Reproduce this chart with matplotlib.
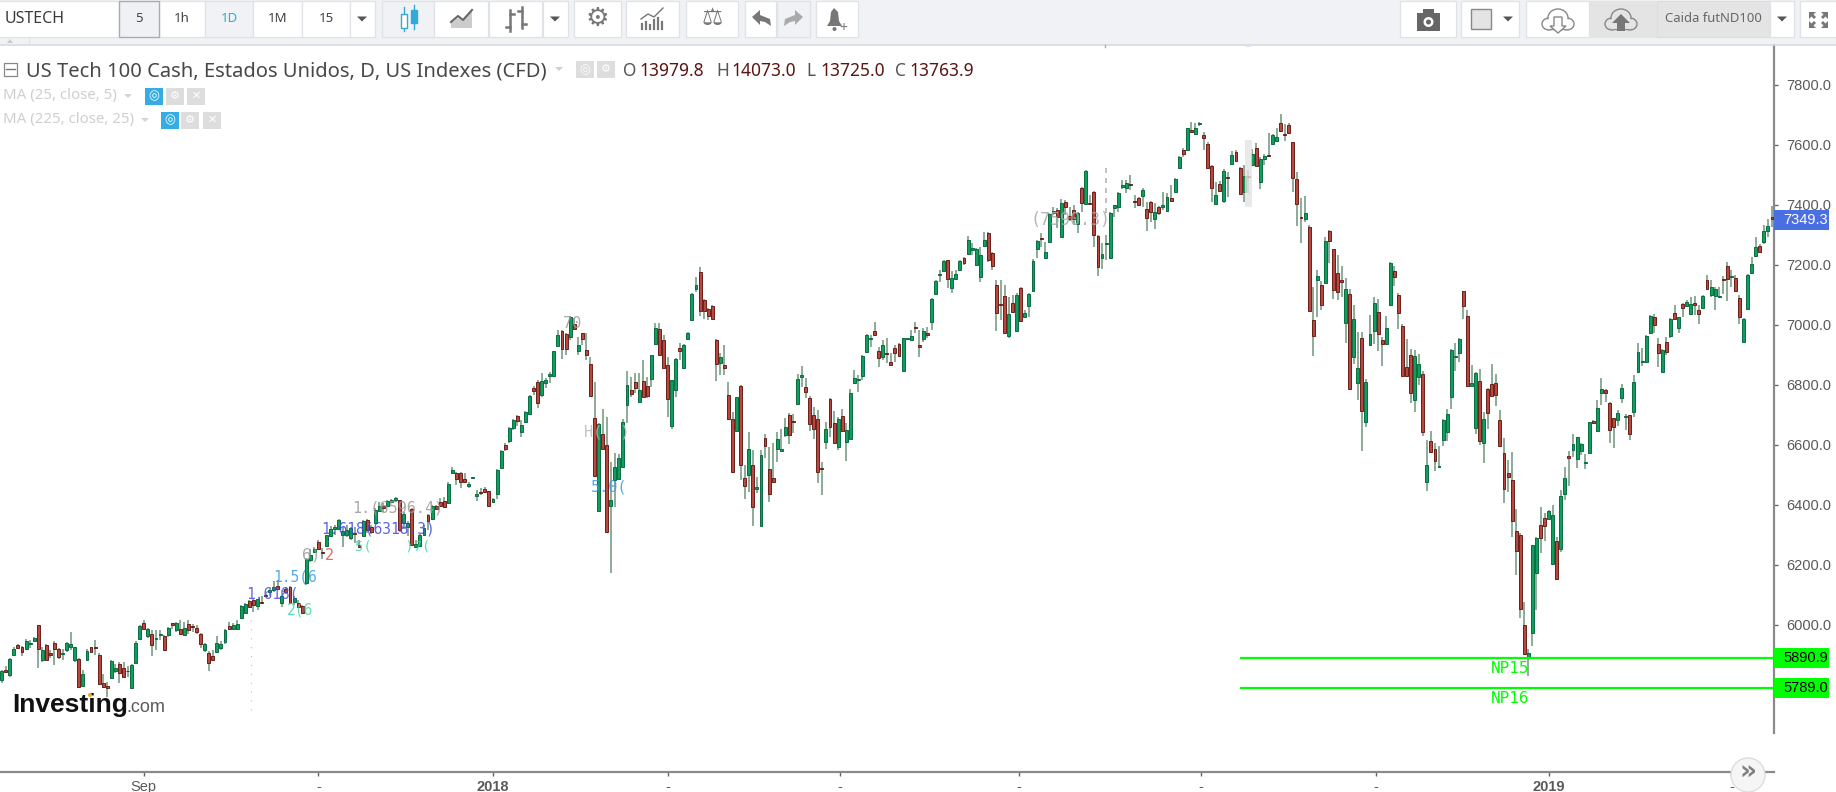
import matplotlib
matplotlib.use("Agg")
import matplotlib.pyplot as plt
from matplotlib.patches import Rectangle, Circle, Polygon, Ellipse

# ---- data ----
directions = (
    "GRGGRRGGGR" "GRRRRGGGGR" "GGRRRRRGGR" "RRGGGRGRGG" "RGRGRGRRRR"
    "GRRGGGRGGG" "GRRGRRGGRG" "RRGRRGGGRR" "GGGGGGGRRG" "RRGGRGGGRG"
    "GRGGGRGRRR" "GGRRRGGGRR" "RGGGRGGRGG" "GRRGGGGGRR" "GRGRRRRGRR"
    "GGGGGRRGRR" "GGRRRGGRGG" "GGRRRRRGRR" "RGRRGRGGRR" "RGGGRRGGRR"
    "RRRGRRGRGG" "GGGGGRRGRR" "RRGGGRRGRG" "GGGRGGGRGG" "GGGRRRRRGR"
    "GRGGGGRGGG" "RGRRRGRGRR" "RGGGGGGGRR" "RGRRGRGGRG" "GRGRGGRRRG"
    "RGRGRRGRGR" "GGRGGRRRRR" "RGRRGRGRRR" "RGRGGRGGGR" "RGGRRRRRGG"
    "RGRRGGGGGG" "RRGGRGRRRR" "RRRRRRGGGR" "RGGRGGRGGG" "GGRGGRRRGG"
    "GRGGGGGRRG" "RGRGRGGRRG" "RGGGRRGRRG" "GGGRGGR"
)
highs = [
    5850,5864,5889,5928,5936,5930,5953,5950,5959,5999, 5926,5937,5917,5945,5923,5919,5944,5978,5928,5889,
    5850,5919,5928,5950,5908,5836,5811,5884,5870,5875, 5878,5864,5870,5947,6000,6017,5989,5984,5984,5984,
    5965,5993,6008,6011,6017,6011,6015,6004,6000,5973, 5941,5914,5915,5964,5945,5986,6011,6008,6017,6066,
    6073,6084,6086,6088,6095,6104,6123,6145,6150,6117, 6128,6130,6095,6084,6067,6223,6253,6261,6284,6256,
    6301,6330,6334,6353,6326,6334,6328,6328,6284,6350, 6353,6334,6389,6411,6406,6417,6419,6426,6417,6375,
    6345,6389,6284,6303,6334,6370,6400,6399,6423,6428, 6475,6528,6511,6511,6506,6478,6494,6450,6456,6459,
    6448,6422,6519,6583,6606,6661,6686,6700,6683,6713, 6767,6797,6817,6839,6822,6844,6914,6983,6983,6974,
    7030,7022,6961,6974,6972,6892,6811,6674,6719,6694, 6544,6572,6570,6686,6848,6828,6839,6839,6883,6828,
    6901,7008,7006,6966,6894,6817,6889,6941,6937,6978, 7106,7159,7193,7086,7056,7067,6952,6908,6933,6811,
    6711,6761,6799,6533,6644,6583,6494,6583,6637,6594, 6606,6644,6653,6689,6708,6702,6837,6863,6822,6763,
    6726,6717,6544,6678,6756,6714,6692,6719,6672,6788, 6850,6833,6900,6970,6967,7011,6928,6950,6956,6906,
    6933,6939,6958,6958,6983,7011,6983,6989,6994,7089, 7150,7183,7217,7217,7181,7183,7217,7228,7297,7272,
    7258,7261,7311,7311,7243,7150,7150,7133,7094,7100, 7106,7127,7050,7108,7219,7283,7306,7278,7372,7392,
    7389,7420,7417,7392,7400,7378,7459,7516,7433,7447, 7300,7272,7300,7377,7401,7442,7483,7483,7500,7433,
    7428,7456,7411,7413,7406,7397,7444,7439,7467,7490, 7563,7589,7658,7677,7672,7677,7644,7611,7532,7478,
    7480,7519,7511,7581,7583,7528,7533,7517,7586,7608, 7561,7569,7641,7636,7656,7703,7670,7672,7611,7511,
    7422,7431,7332,7125,7183,7147,7294,7316,7254,7233, 7196,7155,7119,7066,6977,6977,6820,7033,7092,7085,
    6959,7030,7210,7196,7107,7002,6953,6921,6916,6903, 6845,6616,6645,6605,6596,6685,6720,6919,6941,6955,
    7114,7050,6865,6844,6854,6710,6789,6870,6836,6715, 6624,6550,6577,6386,6305,6077,5919,6267,6292,6394,
    6372,6383,6400,6294,6450,6526,6580,6637,6628,6608, 6570,6678,6683,6750,6822,6786,6743,6691,6717,6803,
    6703,6701,6833,6941,6922,6966,7032,7037,6956,6919, 6961,7022,7067,7028,7072,7083,7092,7098,7067,7099,
    7167,7150,7128,7128,7163,7209,7183,7167,7100,7023, 7169,7226,7294,7269,7333,7352,7397,
]
body_tops = [
    5845,5850,5887,5921,5934,5928,5947,5939,5958,5999, 5917,5934,5908,5941,5920,5908,5941,5935,5925,5887,
    5836,5914,5925,5926,5900,5807,5796,5880,5857,5870, 5857,5847,5866,5939,5997,6008,5987,5970,5957,5969,
    5963,5989,6006,6008,5986,5991,6003,5997,5991,5970, 5937,5908,5898,5941,5937,5984,5995,6000,6003,6064,
    6070,6079,6084,6086,6078,6099,6117,6128,6131,6097, 6119,6128,6089,6073,6064,6219,6234,6253,6278,6244,
    6299,6319,6326,6350,6314,6315,6323,6308,6267,6347, 6350,6325,6383,6395,6395,6413,6417,6423,6415,6370,
    6339,6386,6270,6300,6323,6368,6398,6397,6411,6414, 6471,6517,6508,6508,6486,6470,6494,6437,6442,6454,
    6446,6420,6517,6580,6600,6657,6682,6697,6666,6711, 6763,6791,6811,6814,6817,6837,6912,6967,6980,6970,
    7028,7003,6933,6972,6916,6870,6691,6670,6637,6599, 6417,6528,6558,6678,6799,6782,6809,6783,6812,6796,
    6899,6991,6986,6949,6866,6817,6887,6924,6933,6972, 7103,7134,7175,7084,7053,7063,6950,6892,6866,6766,
    6687,6759,6797,6491,6586,6532,6461,6566,6624,6520, 6491,6619,6587,6661,6700,6679,6820,6834,6794,6758,
    6701,6686,6521,6653,6753,6672,6686,6698,6650,6774, 6823,6821,6897,6967,6957,6981,6912,6932,6907,6878,
    6924,6936,6956,6956,6964,6994,6932,6979,6972,7087, 7147,7170,7213,7216,7156,7170,7212,7222,7282,7256,
    7254,7233,7282,7308,7241,7132,7070,7098,7037,7073, 7099,7124,7039,7104,7214,7279,7291,7244,7369,7379,
    7383,7406,7411,7364,7382,7374,7457,7513,7407,7444, 7298,7236,7274,7374,7399,7440,7466,7472,7471,7412,
    7422,7449,7386,7411,7378,7394,7399,7427,7422,7488, 7561,7582,7656,7649,7657,7672,7633,7604,7529,7432,
    7470,7513,7494,7566,7578,7524,7497,7498,7569,7591, 7552,7564,7567,7632,7628,7672,7637,7666,7609,7486,
    7358,7372,7325,7016,7163,7132,7280,7313,7252,7174, 7150,7119,7103,7020,6857,6957,6811,6969,7074,7044,
    6949,6991,7207,7179,7099,6995,6861,6899,6895,6870, 6836,6532,6612,6586,6531,6683,6703,6916,6896,6953,
    7112,7029,6806,6841,6812,6686,6786,6802,6806,6682, 6573,6506,6482,6314,6299,5999,5906,6265,6290,6333,
    6357,6380,6367,6279,6429,6491,6562,6603,6626,6603, 6544,6676,6681,6724,6786,6782,6741,6689,6708,6791,
    6698,6699,6811,6911,6878,6963,7029,7028,6936,6916, 6944,7020,7041,7026,7070,7078,7069,7073,7049,7097,
    7149,7128,7120,7098,7153,7196,7163,7157,7091,7021, 7167,7203,7261,7262,7312,7330,7361,
]
body_bottoms = [
    5817,5844,5834,5900,5923,5909,5919,5935,5948,5919, 5884,5884,5899,5919,5893,5904,5915,5928,5882,5793,
    5797,5882,5909,5923,5803,5794,5789,5823,5848,5839, 5827,5845,5789,5873,5953,5988,5964,5934,5954,5965,
    5917,5965,5999,5984,5970,5967,5984,5993,5977,5937, 5915,5873,5884,5911,5923,5943,5986,5988,5986,6023,
    6039,6061,6068,6064,6074,6097,6110,6117,6120,6073, 6111,6073,6078,6061,6041,6139,6215,6244,6253,6239,
    6264,6295,6319,6321,6300,6300,6289,6304,6261,6298, 6317,6309,6339,6381,6389,6398,6410,6415,6315,6339,
    6326,6267,6261,6264,6300,6347,6354,6386,6397,6393, 6406,6506,6486,6478,6476,6463,6490,6430,6439,6442,
    6397,6411,6436,6522,6586,6612,6656,6681,6642,6676, 6702,6781,6739,6767,6806,6831,6831,6930,6920,6919,
    6959,6988,6913,6952,6901,6764,6498,6380,6586,6311, 6397,6483,6486,6528,6734,6770,6789,6743,6760,6764,
    6819,6936,6901,6856,6752,6664,6782,6913,6856,6954, 7017,7120,7048,7046,7031,7021,6869,6872,6856,6686,
    6510,6648,6532,6464,6499,6394,6452,6331,6598,6436, 6476,6588,6581,6632,6632,6676,6737,6828,6777,6669,
    6652,6510,6519,6610,6661,6606,6592,6648,6611,6621, 6806,6817,6831,6911,6952,6966,6889,6892,6902,6867,
    6906,6898,6848,6952,6950,6989,6927,6954,6968,7011, 7102,7166,7181,7154,7122,7152,7184,7206,7236,7249,
    7200,7161,7264,7218,7198,7039,7067,6972,6963,7042, 6981,7014,7027,7063,7113,7252,7286,7223,7277,7372,
    7360,7294,7394,7352,7352,7337,7406,7403,7402,7299, 7194,7224,7271,7223,7390,7394,7460,7457,7468,7409,
    7401,7430,7356,7378,7354,7372,7394,7381,7413,7444, 7524,7571,7584,7643,7636,7669,7622,7522,7456,7402,
    7448,7413,7489,7536,7548,7436,7444,7493,7533,7531, 7478,7552,7564,7602,7614,7648,7632,7639,7489,7402,
    7356,7352,7047,6963,7150,7066,7141,7280,7116,7109, 7143,7005,6786,6894,6805,6714,6676,6933,6981,6969,
    6937,6936,7066,7159,7039,6831,6831,6772,6750,6827, 6643,6476,6576,6547,6526,6618,6643,6760,6893,6905,
    7064,6798,6798,6655,6614,6605,6705,6764,6767,6596, 6452,6493,6347,6247,6052,5902,5894,5972,6172,6289,
    6331,6352,6202,6152,6252,6436,6556,6582,6552,6581, 6540,6572,6673,6648,6772,6773,6649,6661,6682,6756,
    6694,6636,6711,6844,6876,6878,6972,6999,6906,6843, 6909,6963,7019,6989,7056,7064,7036,7066,7036,7056,
    7119,7100,7097,7092,7151,7152,7159,7113,7026,6943, 7052,7174,7231,7243,7276,7314,7352,
]
lows = [
    5806,5839,5826,5900,5920,5897,5917,5923,5947,5856, 5878,5882,5889,5867,5888,5884,5911,5917,5878,5789,
    5795,5879,5906,5900,5800,5789,5759,5819,5839,5808, 5823,5826,5788,5870,5950,5986,5956,5897,5917,5950,
    5915,5961,5986,5978,5967,5964,5970,5978,5970,5923, 5911,5848,5882,5906,5915,5937,5984,5986,5984,6019,
    6037,6059,6043,6050,6070,6093,6095,6111,6117,6061, 6104,6070,6067,6056,6040,6134,6211,6239,6250,6219,
    6259,6293,6300,6317,6261,6293,6284,6273,6259,6295, 6306,6303,6337,6379,6378,6395,6406,6411,6311,6319,
    6295,6264,6259,6261,6295,6317,6350,6384,6395,6389, 6404,6504,6467,6456,6472,6456,6490,6414,6433,6439,
    6394,6408,6421,6520,6581,6608,6650,6663,6626,6672, 6700,6767,6722,6761,6789,6806,6828,6928,6886,6900,
    6950,6983,6900,6933,6883,6761,6494,6378,6583,6309, 6172,6394,6483,6526,6672,6759,6772,6741,6759,6756,
    6794,6932,6899,6853,6694,6652,6759,6883,6854,6950, 7014,7111,7030,7019,7015,7019,6814,6833,6833,6683,
    6508,6644,6483,6419,6444,6330,6439,6330,6556,6411, 6472,6544,6578,6628,6603,6639,6734,6794,6756,6648,
    6619,6472,6433,6586,6628,6603,6583,6644,6548,6619, 6803,6777,6817,6908,6928,6963,6859,6883,6872,6864,
    6878,6894,6846,6950,6948,6974,6892,6944,6956,6983, 7100,7144,7178,7122,7106,7150,7181,7200,7233,7233,
    7197,7142,7261,7211,7183,6981,7017,6970,6956,7039, 6978,7011,7024,7028,7111,7222,7261,7221,7274,7367,
    7322,7292,7367,7348,7333,7306,7378,7400,7400,7261, 7164,7186,7217,7221,7361,7378,7452,7439,7450,7389,
    7399,7394,7314,7344,7319,7367,7383,7379,7411,7442, 7519,7561,7583,7641,7633,7663,7583,7520,7411,7400,
    7444,7406,7428,7533,7544,7433,7411,7439,7531,7528, 7452,7533,7561,7600,7611,7644,7614,7637,7444,7330,
    7272,7344,7045,6897,7025,7050,7139,7207,7087,7083, 7094,6939,6785,6870,6750,6581,6659,6930,6936,6914,
    6864,6934,7063,7130,6987,6829,6827,6741,6710,6801, 6630,6446,6572,6514,6525,6596,6614,6719,6845,6875,
    7019,6794,6796,6636,6600,6539,6654,6763,6730,6593, 6405,6443,6294,6166,6022,5900,5831,5931,6050,6239,
    6281,6350,6200,6150,6244,6417,6463,6561,6522,6567, 6519,6570,6670,6644,6733,6744,6608,6589,6663,6739,
    6650,6617,6692,6841,6863,6874,6970,6974,6859,6841, 6900,6956,7017,6974,7026,7061,7034,7034,7003,7053,
    7117,7092,7050,7089,7103,7080,7126,7110,7003,6941, 7050,7170,7228,7241,7270,7294,7326,
]
ytick_values = [6000, 6200, 6400, 6600, 6800, 7000, 7200, 7400, 7600, 7800]
xtick_bars = [35, 78, 121, 164, 206.5, 250.6, 295.4, 338.5, 381, 426]
xtick_labels = ["Sep", "-", "2018", "-", "-", "-", "-", "-", "2019", "-"]
last_price = 7349.3
np_levels = [5890.9, 5789.0]
np_names = ["NP15", "NP16"]
np_start_bar = 305
title = "US Tech 100 Cash, Estados Unidos, D, US Indexes (CFD)"
ohlc_names = ["O", "H", "L", "C"]
ohlc_values = ["13979.8", "14073.0", "13725.0", "13763.9"]

# ---- figure ----
W, H = 1836, 792
fig = plt.figure(figsize=(W / 100, H / 100), dpi=100, facecolor="white")
plot_right, plot_top, plot_bottom = 1774, 45, 772
ax = fig.add_axes([0, 1 - plot_bottom / H, plot_right / W, (plot_bottom - plot_top) / H])
ax.set_facecolor("white")
ax.set_xlim(-0.42, 436.5)
ax.set_ylim(5510, 7933)

GREEN, GREEN_E = "#0e9f5c", "#0b6b42"
RED, RED_E = "#b8473d", "#6b201a"
WICK = "#6f947f"
xs = list(range(len(highs)))
ax.vlines(xs, lows, highs, color=WICK, lw=1.1, zorder=2)
for d, col, ec in (("G", GREEN, GREEN_E), ("R", RED, RED_E)):
    idx = [i for i in xs if directions[i] == d]
    ax.bar(idx, [max(body_tops[i] - body_bottoms[i], 3) for i in idx],
           bottom=[body_bottoms[i] for i in idx], width=0.72,
           color=col, edgecolor=ec, linewidth=0.7, zorder=3)

for lvl, name in zip(np_levels, np_names):
    ax.plot([np_start_bar, 436.5], [lvl, lvl], color="#00ff00", lw=1.6, zorder=4, solid_capstyle="butt")
    ax.annotate(name, (371.5, lvl), xytext=(0, -7.5), textcoords="offset points", ha="center", va="center",
                family="DejaVu Sans Mono", fontsize=11.5, color="#00ff00", zorder=5)

for s in ("top", "left"):
    ax.spines[s].set_visible(False)
ax.spines["bottom"].set_color("#8a8a8a")
ax.spines["bottom"].set_linewidth(1.6)
ax.spines["right"].set_color("#8a8a8a")
ax.spines["right"].set_linewidth(1.6)
ax.spines["right"].set_bounds(5640, 7933)
ax.yaxis.tick_right()
ax.set_yticks(ytick_values)
ax.set_yticklabels([f"{v:.1f}" for v in ytick_values], family="Liberation Sans", fontsize=10.5, color="#5a5a5a")
ax.tick_params(axis="y", length=3, width=1, color="#666666", pad=6)
ax.set_xticks(xtick_bars)
ax.set_xticklabels(xtick_labels, family="Liberation Sans", fontsize=10.5, color="#5a5a5a")
for lab, txt in zip(ax.get_xticklabels(), xtick_labels):
    if txt.isdigit():
        lab.set_fontweight("bold")
ax.tick_params(axis="x", length=3, width=1, color="#666666", pad=3)

# price-axis flags
trans = ax.get_yaxis_transform()
flag_w = 55 / plot_right
flag_h = 20 / 0.3
for val, bg, fg in ((last_price, "#4a6fe3", "white"), (np_levels[0], "#00ff00", "black"), (np_levels[1], "#00ff00", "black")):
    ax.add_patch(Rectangle((1.0, val - flag_h / 2), flag_w, flag_h, transform=trans, facecolor=bg,
                           edgecolor="none", clip_on=False, zorder=6))
    ax.text(1.0 + 9 / plot_right, val, f"{val:.1f}", transform=trans, color=fg, va="center", ha="left",
            family="Liberation Sans", fontsize=10.5, zorder=7, clip_on=False)

# ---- page chrome in pixel coordinates ----
ui = fig.add_axes([0, 0, 1, 1], zorder=10)
ui.set_xlim(0, W)
ui.set_ylim(H, 0)
ui.axis("off")
ui.patch.set_alpha(0)

BAR_BG = "#f0f2f5"
BORDER = "#dfe2e6"
ICON = "#777777"


def box(x0, x1, y0=1, y1=37, fc="white", ec=BORDER, lw=0.9, z=11):
    ui.add_patch(Rectangle((x0, y0), x1 - x0, y1 - y0, facecolor=fc, edgecolor=ec, lw=lw, zorder=z))


def label(x, y, s, size=10, color="#444444", ha="center", weight="normal", family="Noto Sans", z=13, **kw):
    return ui.text(x, y, s, fontsize=size, color=color, ha=ha, va="center", fontweight=weight, family=family,
                   zorder=z, **kw)


def tri(x, y, w=5, h=5, color="#555555"):
    ui.add_patch(Polygon([(x - w, y - h / 2), (x + w, y - h / 2), (x, y + h / 2)], closed=True, facecolor=color,
                         edgecolor="none", zorder=13))


ui.add_patch(Rectangle((0, 0), W, 44, facecolor=BAR_BG, edgecolor="none", zorder=10))
ui.plot([0, W], [44.5, 44.5], color="#d6dadf", lw=1.2, zorder=11)
ui.plot([0, 29, 29], [37, 37, 44], color="#dfe2e6", lw=0.8, zorder=11)
ui.add_patch(Polygon([(7, 43), (13, 43), (10, 39)], closed=True, facecolor="#cccccc", edgecolor="none", zorder=12))

box(-2, 119, fc="white")
label(5, 19, "USTECH", size=11.5, ha="left", weight="bold", color="#3a3a3a")
box(119, 159, fc="#eff1f5", ec="#a9adb3", lw=1.0, z=12)
label(139, 19, "5", size=9.5, weight="bold")
box(159, 205)
label(182, 19, "1h", size=9.5, weight="bold")
box(205, 253, fc=BAR_BG)
label(229, 19, "1D", size=9.5, weight="bold", color="#2eaadc")
box(253, 302)
label(278, 19, "1M", size=9.5, weight="bold")
box(302, 350)
label(326, 19, "15", size=9.5, weight="bold")
box(350, 375)
tri(362, 19)

box(382, 434, fc=BAR_BG)
for cx, y0, y1, b0, b1 in ((404, 7, 31, 14, 28), (414, 5, 29, 10, 23)):
    ui.plot([cx, cx], [y0, y1], color="#2eaadc", lw=1, zorder=12)
    ui.add_patch(Rectangle((cx - 3, b0), 6, b1 - b0, facecolor="#2eaadc" if cx == 414 else "white",
                           edgecolor="#2eaadc", lw=1, zorder=13))
box(434, 488)
ui.add_patch(Polygon([(451, 28), (451, 23), (458, 18), (463, 21), (472, 11), (472, 28)], closed=True,
                     facecolor="#cccccc", edgecolor="none", zorder=12))
ui.plot([451, 458, 463, 472], [22, 16, 20, 10], color="#666666", lw=1.5, zorder=13)
box(489, 542)
for cx, y0, y1, yl, yr in ((510, 10, 31, 27, 14), (522, 7, 28, 11, 24)):
    ui.plot([cx, cx], [y0, y1], color=ICON, lw=1.8, zorder=13)
    ui.plot([cx - 4, cx], [yl, yl], color=ICON, lw=1.8, zorder=13)
    ui.plot([cx, cx + 4], [yr, yr], color=ICON, lw=1.8, zorder=13)
box(543, 568)
tri(555, 19)
box(574, 621)
label(597.5, 19, "\u2699", size=19, color=ICON, family="DejaVu Sans")
box(626, 679)
for cx, top in zip(range(642, 664, 4), (24, 22, 25, 20, 18, 22)):
    ui.plot([cx, cx], [top, 29], color=ICON, lw=1.6, zorder=13)
ui.plot([641, 648, 654, 663], [19, 14, 17, 8], color=ICON, lw=1, zorder=13)
box(686, 738)
label(712, 18, "\u2696", size=17, color=ICON, family="DejaVu Sans")
box(745, 776)
ui.add_patch(Polygon([(752, 17), (760, 10), (760, 15), (770, 19), (771, 26), (765, 22), (760, 21), (760, 25)],
                     closed=True, facecolor=ICON, edgecolor="none", zorder=13))
box(777, 810, fc=BAR_BG)
ui.add_patch(Polygon([(803, 17), (795, 10), (795, 15), (785, 19), (784, 26), (790, 22), (795, 21), (795, 25)],
                     closed=True, facecolor="#aaaaaa", edgecolor="none", zorder=13))
box(816, 858)
ui.add_patch(Polygon([(827, 26), (830, 21), (831, 12), (834, 8), (838, 12), (839, 21), (842, 26)], closed=True,
                     facecolor=ICON, edgecolor="none", zorder=13))
ui.add_patch(Circle((834.5, 29), 2, facecolor=ICON, edgecolor="none", zorder=13))
label(843, 28, "+", size=10, color=ICON, weight="bold")

box(1400, 1456)
ui.add_patch(Rectangle((1417, 13), 23, 18, facecolor="#666666", edgecolor="none", zorder=13))
ui.add_patch(Rectangle((1423, 9), 11, 5, facecolor="#666666", edgecolor="none", zorder=13))
ui.add_patch(Circle((1428.5, 22), 5, facecolor="white", edgecolor="none", zorder=14))
ui.add_patch(Circle((1428.5, 22), 2.5, facecolor="#666666", edgecolor="none", zorder=15))
box(1461, 1519)
ui.add_patch(Rectangle((1471, 9), 20, 20, facecolor="#e4e4e4", edgecolor="#888888", lw=1, zorder=13))
tri(1508, 19)
box(1526, 1589)
box(1590, 1656, fc="#e4e4e4", ec="#e4e4e4")
box(1657, 1770, fc="#e4e4e4", ec="#dddddd")
for cx, fc, ec in ((1558, "white", "#888888"), (1621, "#e4e4e4", "#888888")):
    for ex, ey, ew, eh in ((cx - 9, 24, 14, 12), (cx + 9, 24, 14, 12), (cx, 18, 20, 18), (cx, 25, 24, 10)):
        ui.add_patch(Ellipse((ex, ey), ew, eh, facecolor=fc, edgecolor=ec, lw=1, zorder=13))
    for ex, ey, ew, eh in ((cx - 8, 24, 12, 10), (cx + 8, 24, 12, 10), (cx, 19, 18, 16), (cx, 25, 22, 8)):
        ui.add_patch(Ellipse((ex, ey), ew, eh, facecolor=fc, edgecolor="none", zorder=14))
ui.add_patch(Polygon([(1554, 17), (1562, 17), (1562, 26), (1566, 26), (1558, 33), (1550, 26), (1554, 26)], closed=True,
                     facecolor="white", edgecolor="#888888", lw=1, zorder=15))
ui.add_patch(Polygon([(1621, 14), (1630, 23), (1625, 23), (1625, 31), (1617, 31), (1617, 23), (1612, 23)], closed=True,
                     facecolor="#777777", edgecolor="none", zorder=15))
label(1713, 19, "Caida futND100", size=9.4, color="#666666", weight="bold")
box(1770, 1794)
tri(1782, 19)
box(1800, 1840)
for (ax0, ay0, sx, sy) in ((1809, 12, 1, 1), (1828, 12, -1, 1), (1809, 28, 1, -1), (1828, 28, -1, -1)):
    ui.add_patch(Polygon([(ax0, ay0), (ax0 + 7 * sx, ay0), (ax0 + 4.5 * sx, ay0 + 2.5 * sy), (ax0 + 7 * sx, ay0 + 5 * sy),
                          (ax0 + 5 * sx, ay0 + 7 * sy), (ax0 + 2.5 * sx, ay0 + 4.5 * sy), (ax0, ay0 + 7 * sy)],
                         closed=True, facecolor=ICON, edgecolor="none", zorder=13))

# legend rows
ui.add_patch(Rectangle((3.5, 62.5), 13, 13, facecolor="white", edgecolor="#888888", lw=0.9, zorder=12))
ui.plot([5.5, 14.5], [69, 69], color="#777777", lw=1, zorder=13)
label(26, 71, title, size=14.5, ha="left", color="#484848")
tri(559, 69, w=4, h=4, color="#cfcfcf")


def small_btn(x0, x1, y0, y1, fc="#dddddd", glyph="\u2699", gc="white", fs=8):
    ui.add_patch(Rectangle((x0, y0), x1 - x0, y1 - y0, facecolor=fc, edgecolor="none", zorder=12))
    label((x0 + x1) / 2, (y0 + y1) / 2, glyph, size=fs, color=gc, family="DejaVu Sans", weight="bold")


small_btn(576, 594, 61, 78, glyph="\u25ce", fs=9)
small_btn(597, 615, 61, 78)
for x, name, val, lx in zip((623, 716, 806, 895), ohlc_names, ohlc_values, (639, 731, 820, 909)):
    label(x, 71, name, size=12.5, ha="left", color="#555555")
    label(lx, 71, val, size=12.5, ha="left", color="#5a1512")
for y, txt, tx, b0, b1, b2 in ((96, "MA (25, close, 5)", 128, 145, 166, 187), (120, "MA (225, close, 25)", 145, 161, 181, 203)):
    label(3, y, txt, size=10.8, ha="left", color="#cfcfcf")
    tri(tx, y, w=4, h=4, color="#d5d5d5")
    small_btn(b0, b0 + 18, y - 8.5, y + 8.5, fc="#35ade2", glyph="\u25ce", fs=9)
    small_btn(b1, b1 + 18, y - 8.5, y + 8.5)
    small_btn(b2, b2 + 18, y - 8.5, y + 8.5, glyph="\u2715")

# logo
label(12, 705, "Investing", size=19, ha="left", weight="bold", color="#111111", family="Liberation Sans")
label(126, 708, ".com", size=13, ha="left", color="#5a5a5a", family="Liberation Sans")
ui.add_patch(Circle((90, 695), 2, facecolor="#f5a623", edgecolor="none", zorder=14))

# erased annotation remnants inside the plot
for x, y, s, col, fs in (
    (398, 508, "1.(6596.4)", "#9a9a9a", 11), (378, 529, "1.618(6318.3)", "#3d4be0", 10.5),
    (295, 577, "1.5(6", "#3a9be0", 10.5), (272, 594, "1.618(", "#4a50e0", 10.5),
    (300, 610, "2(6", "#3fd9a5", 10.5), (311, 555, "6)", "#9a9a9a", 11), (329, 555, "2", "#e05050", 11),
    (393, 546, "5(    )7(", "#3fd9a5", 10), (607, 432, "H(  )", "#b9b9b9", 11),
    (609, 487, "5.0(", "#3a9be0", 11), (572, 323, "70", "#9a9a9a", 11), (1070, 220, "(7590.3)", "#a8a8a8", 12),
):
    label(x, y, s, size=fs, color=col, family="DejaVu Sans Mono", z=9.5, alpha=0.85)
ui.plot([1106, 1106], [168, 215], color="#b5b5b5", lw=1.2, ls=(0, (3, 3)), zorder=11)
ui.add_patch(Rectangle((1245, 140), 7, 67, facecolor="#e4e4e4", edgecolor="none", alpha=0.8, zorder=9))
ui.plot([251, 251], [620, 712], color="#a8cdb5", lw=0.8, ls=(0, (1, 7)), zorder=11)
ui.plot([1105, 1105], [45, 47], color="#aaaaaa", lw=1, zorder=11)
ui.add_patch(Rectangle((1246, 45), 5, 2, facecolor="#e8d8f5", edgecolor="none", zorder=11))

# scroll button
ui.add_patch(Circle((1748, 775), 17, facecolor="#f5f5f5", edgecolor="#dddddd", lw=1, zorder=12))
label(1748, 773, "\u00bb", size=19, color="#808080", family="DejaVu Sans", weight="bold")

fig.savefig("out.png", dpi=100)
